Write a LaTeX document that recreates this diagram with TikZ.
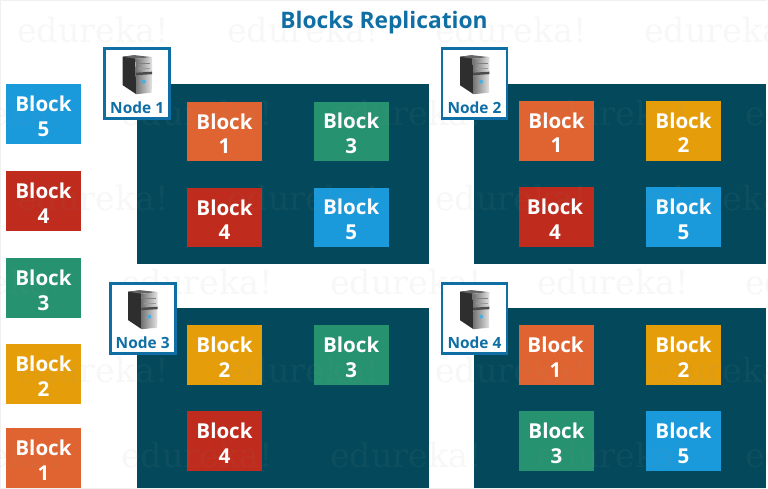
\documentclass[tikz,border=0pt]{standalone}
\usepackage{fontspec}
\setmainfont{Open Sans}
\newfontfamily\stampfont{DejaVu Serif}
\usetikzlibrary{calc}
\definecolor{panelc}{HTML}{03495B}
\definecolor{framec}{HTML}{0F6FA5}
\definecolor{orangec}{HTML}{DF6431}
\definecolor{greenc}{HTML}{26926F}
\definecolor{goldc}{HTML}{E59E0A}
\definecolor{redc}{HTML}{BF2B1C}
\definecolor{bluec}{HTML}{1A9ADB}
\tikzset{
  panel/.style={fill=panelc,inner sep=0pt,minimum width=5.85cm,minimum height=3.6cm},
  blockbox/.style={inner sep=0pt,minimum width=1.5cm,minimum height=1.2cm,text=white,
    align=center,font=\fontsize{11.7}{14}\selectfont\bfseries},
  hostbox/.style={draw=framec,line width=1.5pt,fill=white,inner sep=0pt,minimum width=1.3cm,minimum height=1.4cm},
  stamp/.style={text=black!42,opacity=.07,inner sep=0pt,font=\fontsize{19}{19}\stampfont},
}
% two lines of a block, the optional value pushes them left
\newcommand{\blocklabel}[2][0pt]{\rule{0pt}{11.2pt}Block\hspace*{#1}\\#2\hspace*{#1}}
% one server with its caption, #1 = name, #2 = place, #3 = number
\newcommand{\hostnode}[3]{
  \node[hostbox] (#1) at #2 {};
  \begin{scope}[shift={(#1.center)}]
    \fill[black!82] (-14.5,-27) -- (-2,-28.5) -- (-1,10.5) -- (-14.5,1.5) -- cycle;
    \fill[black!60] (-14.5,-27) -- (-2,-28.5) -- (15,-26.5) -- (-1.5,-25) -- cycle;
    \shade[left color=black!55,right color=black!10] (-1.5,-25) -- (15,-26.5) -- (14.5,9) -- (-1,10.5) -- cycle;
    \fill[black!70] (-1.3,-11) -- (14.8,-12) -- (14.8,-9.5) -- (-1.3,-8.5) -- cycle;
    \fill[black!50] (1,-21) rectangle (13,-19.5);
    \fill[black!40] (1,-16) rectangle (13,-14.8);
    \fill[bluec!80] (6.5,-2) circle (2);
  \end{scope}
  \node[text=framec,font=\fontsize{8.8}{10}\selectfont\bfseries,inner sep=0pt] (#1label) at ($(#1.center)+(0,23.6)$) {Node #3};
}
\begin{document}
\begin{tikzpicture}[x=0.02cm,y=-0.02cm]
\useasboundingbox (0,0) rectangle (768,489);
\draw[black!6,line width=.6pt] (.5,.5) -- (767,.5) (.5,.5) -- (.5,489) (.5,488.5) -- (767,488.5);
% panels
\node[panel] (panela) at (283.2,174) {};
\node[panel] (panelb) at (620,174) {};
\node[panel,minimum height=3.61cm] (panelc) at (283.2,398) {};
\node[panel,minimum height=3.61cm] (paneld) at (620,398) {};
% title
\node[text=framec,font=\fontsize{12.95}{14}\selectfont\bfseries] (title) at (384,22.5) {Blocks Replication};
% left column
\node[blockbox,fill=bluec] (b5) at (43.5,114) {\blocklabel{5}};
\node[blockbox,fill=redc] (b4) at (43.5,201) {\blocklabel{4}};
\node[blockbox,fill=greenc] (b3) at (43.5,288) {\blocklabel{3}};
\node[blockbox,fill=goldc] (b2) at (43.5,374) {\blocklabel{2}};
\node[blockbox,fill=orangec] (b1) at (43.5,458) {\blocklabel{1}};
% node 1
\node[blockbox,fill=orangec] (a1) at (224.5,131.5) {\blocklabel{1}};
\node[blockbox,fill=greenc] (a3) at (351.2,131.5) {\blocklabel{3}};
\node[blockbox,fill=redc] (a4) at (224.5,217.5) {\blocklabel{4}};
\node[blockbox,fill=bluec] (a5) at (351.2,217.5) {\blocklabel{5}};
% node 2
\node[blockbox,fill=orangec] (c1) at (556.5,130.7) {\blocklabel{1}};
\node[blockbox,fill=goldc] (c2) at (683.5,130.7) {\blocklabel{2}};
\node[blockbox,fill=redc] (c4) at (556.5,217) {\blocklabel[1.7pt]{4}};
\node[blockbox,fill=bluec] (c5) at (683.5,217) {\blocklabel{5}};
% node 3
\node[blockbox,fill=goldc] (d2) at (224.5,355) {\blocklabel{2}};
\node[blockbox,fill=greenc] (d3) at (351.2,355) {\blocklabel{3}};
\node[blockbox,fill=redc] (d4) at (224.5,441) {\blocklabel{4}};
% node 4
\node[blockbox,fill=orangec] (e1) at (556.5,355) {\blocklabel[1.1pt]{1}};
\node[blockbox,fill=goldc] (e2) at (683.5,355) {\blocklabel{2}};
\node[blockbox,fill=greenc] (e3) at (556.5,441) {\blocklabel{3}};
\node[blockbox,fill=bluec] (e5) at (683.5,441) {\blocklabel{5}};
% watermark, rows take turns
\foreach \y in {30,198,370}
  \foreach \x in {93,303,511,720}
    \node[stamp] at (\x,\y) {edureka!};
\foreach \y in {113,282,455}
  \foreach \x in {-13,197,406,613,821}
    \node[stamp] at (\x,\y) {edureka!};
% servers
\hostnode{hosta}{(137.2,83.7)}{1}
\hostnode{hostb}{(474.5,83.7)}{2}
\hostnode{hostc}{(142.7,318.7)}{3}
\hostnode{hostd}{(474.5,318.7)}{4}
\end{tikzpicture}
\end{document}
